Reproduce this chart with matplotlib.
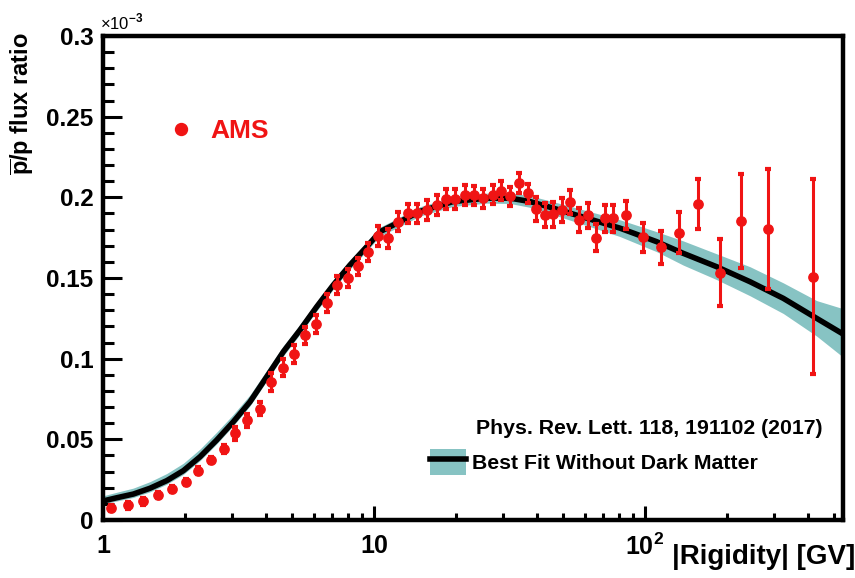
import numpy as np
import matplotlib
matplotlib.use('Agg')
import matplotlib.pyplot as plt
from matplotlib.ticker import FixedLocator, MultipleLocator, FuncFormatter, LogLocator, NullFormatter
from matplotlib.lines import Line2D
from matplotlib.patches import Patch
from matplotlib.legend_handler import HandlerTuple

plt.rcParams['font.family'] = ['Liberation Sans', 'DejaVu Sans']
plt.rcParams['font.weight'] = 'bold'
plt.rcParams['mathtext.fontset'] = 'custom'
plt.rcParams['mathtext.rm'] = 'Liberation Sans:bold'
plt.rcParams['mathtext.bf'] = 'Liberation Sans:bold'
plt.rcParams['mathtext.sf'] = 'Liberation Sans'

# AMS pbar/p flux ratio (units of 1e-3)
rig = [1.073, 1.237, 1.401, 1.592, 1.793, 2.019, 2.247, 2.503, 2.789, 3.077,
       3.408, 3.803, 4.169, 4.604, 5.054, 5.578, 6.118, 6.696, 7.322, 7.998,
       8.752, 9.528, 10.33, 11.29, 12.29, 13.38, 14.45, 15.65, 17.01, 18.49,
       19.98, 21.61, 23.33, 25.32, 27.37, 29.42, 31.84, 34.34, 37.01, 39.72,
       42.76, 45.87, 49.27, 53.02, 57.23, 61.45, 66.13, 71.19, 76.20, 85.11,
       98.56, 114.3, 133.5, 157.3, 189.2, 225.5, 283.7, 417.8]
ratio = [0.0073, 0.0091, 0.0116, 0.0155, 0.0192, 0.0237, 0.0306, 0.0372, 0.0438, 0.0539,
         0.0617, 0.0689, 0.0856, 0.0945, 0.1027, 0.1144, 0.1217, 0.1343, 0.1457, 0.1498,
         0.1572, 0.1662, 0.1761, 0.1746, 0.1849, 0.1901, 0.1901, 0.1922, 0.1953, 0.1990,
         0.1990, 0.2015, 0.2013, 0.1994, 0.2017, 0.2042, 0.2006, 0.2089, 0.2025, 0.1929,
         0.1891, 0.1894, 0.1924, 0.1973, 0.1862, 0.1888, 0.1750, 0.1870, 0.1870, 0.1891,
         0.1753, 0.1691, 0.1781, 0.1959, 0.1533, 0.1854, 0.1802, 0.1508]
err = [0.002, 0.002, 0.002, 0.002, 0.002, 0.002, 0.002, 0.002, 0.0025, 0.004,
       0.004, 0.004, 0.0055, 0.0055, 0.0055, 0.0055, 0.0055, 0.0055, 0.0055, 0.0055,
       0.0055, 0.0055, 0.006, 0.006, 0.006, 0.006, 0.006, 0.006, 0.006, 0.006,
       0.006, 0.006, 0.006, 0.006, 0.006, 0.006, 0.006, 0.006, 0.006, 0.0075,
       0.0075, 0.0075, 0.0075, 0.0075, 0.0075, 0.0075, 0.0085, 0.0085, 0.0085, 0.0085,
       0.009, 0.0102, 0.0127, 0.0157, 0.0209, 0.0293, 0.0372, 0.0603]

# best fit without dark matter and its band
fit_rig = [1.0, 1.123, 1.294, 1.491, 1.718, 1.979, 2.280, 2.628, 3.026, 3.487,
           4.019, 4.627, 5.333, 6.145, 7.076, 8.154, 9.399, 10.52, 12.13, 14.78,
           19.61, 26.06, 31.76, 37.64, 45.87, 60.95, 80.85, 110.5, 138.4, 183.9,
           244.1, 323.9, 430.1, 537.9]
fit_val = [0.0118, 0.0138, 0.0161, 0.0197, 0.0244, 0.0306, 0.0392, 0.0496, 0.0609, 0.0733,
           0.0888, 0.1043, 0.1178, 0.1322, 0.1457, 0.1581, 0.1694, 0.1787, 0.1839, 0.1913,
           0.1974, 0.1995, 0.1995, 0.1974, 0.1933, 0.1871, 0.1809, 0.1725, 0.1653, 0.1570,
           0.1477, 0.1374, 0.1250, 0.1153]
band_lo = [0.0100, 0.0118, 0.0140, 0.0175, 0.0222, 0.0283, 0.0368, 0.0472, 0.0585, 0.0708,
           0.0862, 0.1017, 0.1152, 0.1296, 0.1431, 0.1555, 0.1668, 0.1760, 0.1810, 0.1884,
           0.1944, 0.1964, 0.1962, 0.1938, 0.1893, 0.1825, 0.1757, 0.1663, 0.158, 0.149,
           0.139, 0.128, 0.114, 0.101]
band_hi = [0.0150, 0.0172, 0.0198, 0.0238, 0.0288, 0.0352, 0.0440, 0.0545, 0.0655, 0.0776,
           0.0928, 0.1080, 0.1212, 0.1353, 0.1487, 0.1610, 0.1722, 0.1815, 0.1868, 0.1942,
           0.2004, 0.2026, 0.2028, 0.2010, 0.1973, 0.1917, 0.1861, 0.1787, 0.173, 0.165,
           0.157, 0.147, 0.136, 0.131]

red = '#f01414'
teal = '#87c3c3'

fig = plt.figure(figsize=(8.55, 5.78), dpi=100)
ax = fig.add_axes([0.1205, 0.1003, 0.8655, 0.8374])

ax.fill_between(fit_rig, band_lo, band_hi, color=teal, lw=0)
ax.plot(fit_rig, fit_val, color='black', lw=4, solid_joinstyle='round')
ax.errorbar(rig, ratio, yerr=err, fmt='o', color=red, ms=6.7,
            elinewidth=2.2, capsize=2.5, capthick=3)

ax.set_xscale('log')
ax.set_xlim(1, 538)
ax.set_ylim(0, 0.3)

ax.xaxis.set_major_locator(FixedLocator([1, 10, 100]))
xlabels = {1: '1', 10: '10', 100: r'$10^{2}\qquad$'}
ax.xaxis.set_major_formatter(FuncFormatter(lambda v, p: xlabels.get(int(round(v)), '')))
ax.xaxis.set_minor_locator(LogLocator(base=10, subs=range(2, 10)))
ax.xaxis.set_minor_formatter(NullFormatter())
ax.yaxis.set_major_locator(MultipleLocator(0.05))
ax.yaxis.set_minor_locator(MultipleLocator(0.01))
ax.yaxis.set_major_formatter(FuncFormatter(lambda v, p: '%g' % round(v, 3)))

for s in ax.spines.values():
    s.set_linewidth(3.2)
ax.tick_params(which='both', direction='in', top=False, right=False)
ax.tick_params(axis='y', which='major', length=14, width=2.2, pad=7, labelsize=17.5)
ax.tick_params(axis='y', which='minor', length=8, width=2.2)
ax.tick_params(axis='x', which='major', length=10, width=2.2, pad=10, labelsize=18)
ax.tick_params(axis='x', which='minor', length=5, width=2.2)

ax.set_ylabel(r'$\overline{\mathrm{p}}$/p flux ratio', fontsize=17, fontweight='bold', loc='top')
ax.yaxis.set_label_coords(-0.09, 1.008)
ax.set_xlabel('|Rigidity| [GV]', fontsize=20, fontweight='bold', loc='right')
ax.xaxis.set_label_coords(1.016, -0.05)

ax.text(-0.004, 1.008, '×10$^{\\mathsf{-3}}$', transform=ax.transAxes,
        fontsize=12, fontweight='normal', ha='left', va='bottom')

ams = Line2D([], [], ls='none', marker='o', color=red, ms=8.6)
leg1 = ax.legend([ams], ['AMS'], loc='center left', bbox_to_anchor=(0.0876, 0.804),
                 frameon=False, borderpad=0, borderaxespad=0, handlelength=1.0,
                 handletextpad=0.6, numpoints=1, prop={'size': 19, 'weight': 'bold'})
for t in leg1.get_texts():
    t.set_color(red)
ax.add_artist(leg1)

ax.text(0.504, 0.19, 'Phys. Rev. Lett. 118, 191102 (2017)', transform=ax.transAxes,
        fontsize=15.3, fontweight='bold', ha='left', va='center')

band_h = Patch(facecolor=teal, edgecolor='none')
line_h = Line2D([], [], color='black', lw=4)
ax.legend([(band_h, line_h)], ['Best Fit Without Dark Matter'],
          handler_map={tuple: HandlerTuple(ndivide=1, pad=0)},
          loc='center left', bbox_to_anchor=(0.442, 0.12), frameon=False,
          borderpad=0, borderaxespad=0, handlelength=1.69, handleheight=1.46,
          handletextpad=0.28, prop={'size': 15.3, 'weight': 'bold'})

fig.savefig('out.png', dpi=100)
